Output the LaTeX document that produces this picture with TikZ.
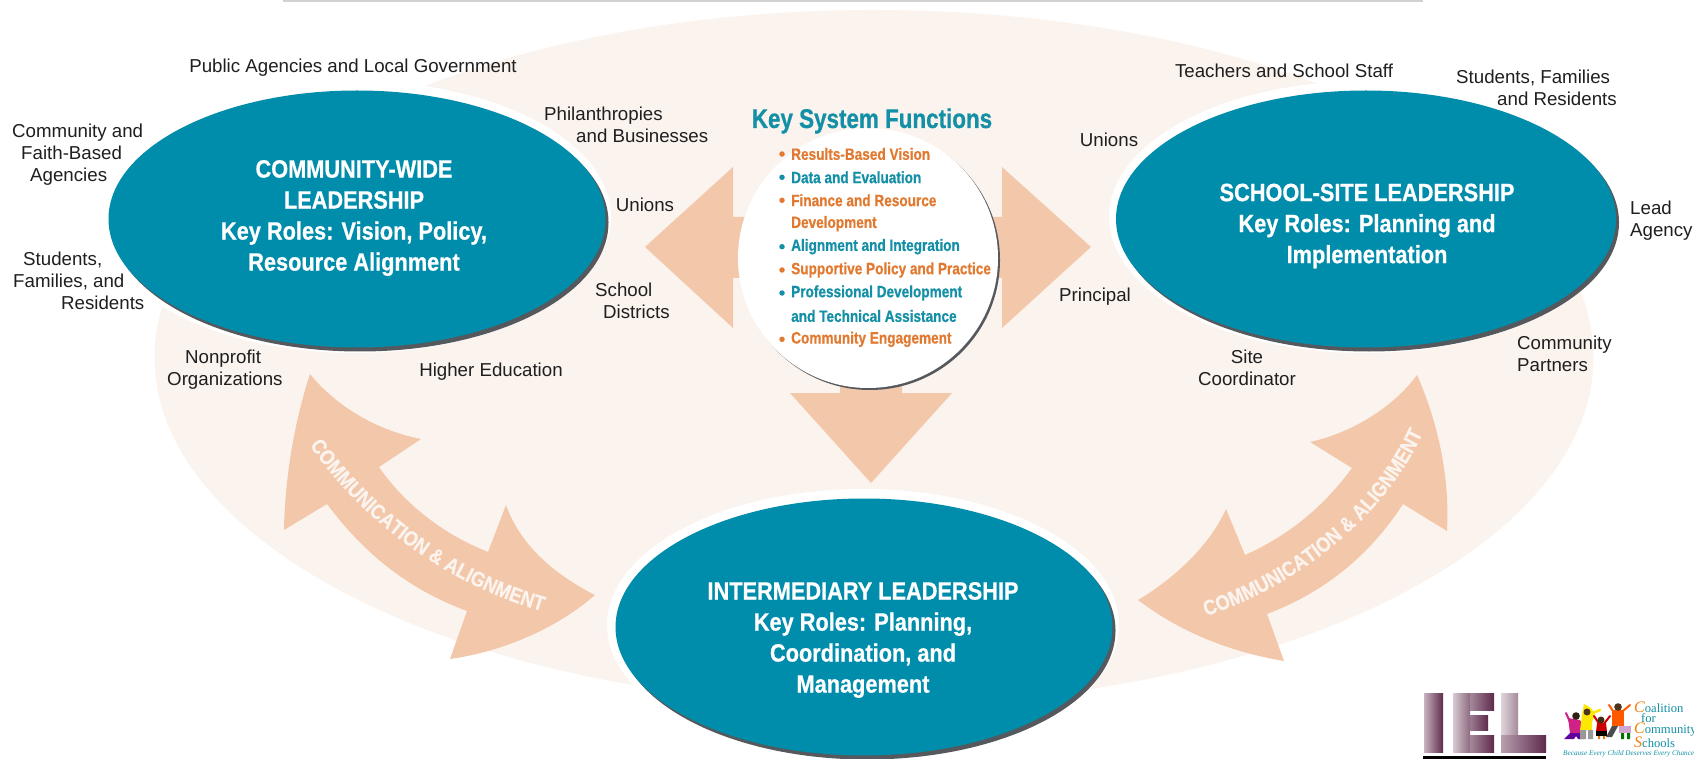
\documentclass[tikz,border=0pt]{standalone}
\usepackage{fontspec}
\usetikzlibrary{shapes.geometric,decorations.text}
\setmainfont{Liberation Sans}
\newfontfamily\condA[FakeStretch=0.87,FakeBold=0.7]{Liberation Sans Bold}
\newfontfamily\condB[FakeStretch=0.83,FakeBold=0.7]{Liberation Sans Bold}
\newfontfamily\logoserif{Liberation Serif}
\definecolor{pale}{HTML}{FBF3EE}
\definecolor{peach}{HTML}{F3C7A9}
\definecolor{teal1}{HTML}{008CAB}
\definecolor{tealtx}{HTML}{138FA6}
\definecolor{orangetx}{HTML}{E17A30}
\definecolor{shadowc}{HTML}{55585C}
\definecolor{plum}{HTML}{5E2A4C}
\tikzset{
  halo/.style={ellipse,fill=white,draw=none,minimum width=#1,minimum height=272pt,inner sep=0pt},
  shade1/.style={ellipse,fill=shadowc,draw=none,minimum width=#1,minimum height=258pt,inner sep=0pt},
  oval/.style={ellipse,fill=teal1,draw=none,minimum width=#1,minimum height=257pt,inner sep=0pt},
  roletxt/.style={text=white,font=\condA\fontsize{25}{31}\selectfont,align=center,inner sep=0pt},
  lbl/.style={text=black!88,font=\fontsize{18.7}{22}\selectfont,align=left,inner sep=0pt},
  lblc/.style={lbl,align=center},
  fnO/.style={text=orangetx,font=\condB\fontsize{16.4}{20}\selectfont,anchor=west,inner sep=0pt},
  fnT/.style={fnO,text=tealtx},
  dotO/.style={circle,fill=orangetx,minimum size=5.5pt,inner sep=0pt},
  dotT/.style={circle,fill=tealtx,minimum size=5.5pt,inner sep=0pt},
  arrowfill/.style={fill=peach,draw=none},
  logotxt/.style={inner sep=0pt,anchor=west,text=tealtx,font=\logoserif\fontsize{12.6}{13}\selectfont},
  curvetext/.style={decorate,decoration={text along path,text align=center,
    text={|\condA\fontsize{21}{21}\selectfont\color{pale}|COMMUNICATION {\&} ALIGNMENT}}},
}
\newcommand{\capC}[1]{{\color{orange!80!brown}\fontsize{16}{16}\selectfont\itshape #1}}
\begin{document}
\begin{tikzpicture}[x=1pt,y=-1pt]
\useasboundingbox (0,0) rectangle (1694,759);
\fill[white] (0,0) rectangle (1694,759);
\fill[black!18] (283,0) rectangle (1423,2);
% large pale ellipse
\node[ellipse,fill=pale,minimum width=1439pt,minimum height=695pt,inner sep=0pt] (bg) at (874,357.5) {};
% straight arrows
\fill[arrowfill] (645,247) -- (733,167) -- (733,217) -- (790,217) -- (790,278) -- (733,278) -- (733,328) -- cycle;
\fill[arrowfill] (1091,247) -- (1002,167) -- (1002,217) -- (950,217) -- (950,278) -- (1002,278) -- (1002,328) -- cycle;
\fill[arrowfill] (871,483) -- (790,393) -- (840,393) -- (840,360) -- (902,360) -- (902,393) -- (952,393) -- cycle;
% curved double arrows
\fill[arrowfill] (310,374) .. controls (335,405) and (375,430) .. (421,439)
  -- (379,467) .. controls (405,505) and (445,535) .. (488,552)
  -- (506,505) .. controls (520,545) and (555,575) .. (595,595)
  .. controls (555,630) and (500,652) .. (450,659)
  -- (467,611) .. controls (410,590) and (365,555) .. (327,504)
  -- (284,530) .. controls (285,475) and (295,420) .. (310,374) -- cycle;
\fill[arrowfill] (1417,375) .. controls (1395,405) and (1355,432) .. (1310,442)
  -- (1352,468) .. controls (1325,505) and (1290,535) .. (1245,555)
  -- (1226,509) .. controls (1210,545) and (1175,578) .. (1138,600)
  .. controls (1180,632) and (1230,652) .. (1284,661)
  -- (1267,614) .. controls (1325,592) and (1370,555) .. (1403,504)
  -- (1447,531) .. controls (1450,475) and (1437,420) .. (1417,375) -- cycle;
\path[curvetext] (308,443) .. controls (350,505) and (430,580) .. (545,612);
\path[curvetext] (1203,617) .. controls (1290,590) and (1385,520) .. (1424,430);
% ovals
\node[halo=512pt] (h1) at (355,217) {};
\node[halo=512pt] (h2) at (1365,217) {};
\node[halo=512pt] (h3) at (863,625) {};
\node[shade1=497pt] (s1) at (360,222.5) {};
\node[shade1=500pt] (s2) at (1369,222.5) {};
\node[shade1=497pt] (s3) at (867,630.5) {};
\node[oval=497pt] (o1) at (357,219) {};
\node[oval=500pt] (o2) at (1366,219) {};
\node[oval=497pt] (o3) at (864,627) {};
\node[roletxt] (t1) at (354,218) {COMMUNITY-WIDE\\LEADERSHIP\\Key Roles: Vision, Policy,\\Resource Alignment};
\node[roletxt] (t2) at (1367,226) {SCHOOL-SITE LEADERSHIP\\Key Roles: Planning and\\Implementation};
\node[roletxt] (t3) at (863,640) {INTERMEDIARY LEADERSHIP\\Key Roles: Planning,\\Coordination, and\\Management};
% centre circle
\node[circle,fill=shadowc,minimum size=260pt,inner sep=0pt] (cs) at (870,260) {};
\node[circle,fill=white,minimum size=260pt,inner sep=0pt] (cc) at (868,258) {};
\node[text=tealtx,font=\condB\fontsize{27}{27}\selectfont,inner sep=0pt] (kf) at (872,121) {Key System Functions};
\node[dotO] (d1) at (782,154) {}; \node[fnO] (f1) at (791,154) {Results-Based Vision};
\node[dotT] (d2) at (782,177.3) {}; \node[fnT] (f2) at (791,177.3) {Data and Evaluation};
\node[dotO] (d3) at (782,200.3) {}; \node[fnO] (f3) at (791,200.3) {Finance and Resource};
\node[fnO] (f3b) at (791,223.7) {Development};
\node[dotT] (d4) at (782,246.7) {}; \node[fnT] (f4) at (791,246.7) {Alignment and Integration};
\node[dotO] (d5) at (782,270) {}; \node[fnO] (f5) at (791,270) {Supportive Policy and Practice};
\node[dotT] (d6) at (782,293) {}; \node[fnT] (f6) at (791,293) {Professional Development};
\node[fnT] (f6b) at (791,316) {and Technical Assistance};
\node[dotO] (d7) at (782,339.3) {}; \node[fnO] (f7) at (791,339.3) {Community Engagement};
% outer labels, left
\node[lblc] (l1) at (353,68) {Public Agencies and Local Government};
\node[lbl,anchor=west] (l2) at (12,155) {Community and\\\hspace*{9pt}Faith-Based\\\hspace*{18pt}Agencies};
\node[lbl,anchor=west] (l3) at (13,281) {\hspace*{10pt}Students,\\Families, and\\\hspace*{48pt}Residents};
\node[lbl,anchor=west] (l4) at (544,125) {Philanthropies\\\hspace*{32pt}and Businesses};
\node[lblc] (l5) at (645,205) {Unions};
\node[lbl,anchor=west] (l6) at (595,301) {School\\\hspace*{8pt}Districts};
\node[lbl,anchor=west] (l7) at (167,370) {\hspace*{18pt}Nonprofit\\Organizations};
\node[lblc] (l8) at (491,372) {Higher Education};
% outer labels, right
\node[lblc] (r1) at (1284,71) {Teachers and School Staff};
\node[lbl,anchor=west] (r2) at (1456,88) {Students, Families\\\hspace*{41pt}and Residents};
\node[lblc] (r3) at (1109,140) {Unions};
\node[lbl,anchor=west] (r4) at (1630,221) {Lead\\Agency};
\node[lblc] (r5) at (1095,297) {Principal};
\node[lblc] (r6) at (1247,368) {Site\\Coordinator};
\node[lbl,anchor=west] (r7) at (1517,354) {Community\\Partners};
% IEL logo
\begin{scope}
\shade[left color=plum!35,right color=plum] (1424,693) rectangle (1443,752);
\shade[left color=plum!25,right color=plum] (1453,693) rectangle (1494,710);
\shade[left color=plum!25,right color=plum] (1453,715) rectangle (1488,730);
\shade[left color=plum!25,right color=plum] (1453,735) rectangle (1494,752);
\shade[left color=plum!25,right color=plum!70] (1453,693) rectangle (1470,752);
\shade[left color=plum!20,right color=plum!55] (1501,693) rectangle (1518,752);
\shade[left color=plum!45,right color=plum] (1501,735) rectangle (1546,752);
\fill[black] (1423,756) rectangle (1546,759);
\end{scope}
% Coalition logo children
\draw[magenta!85!black,line width=2pt,line cap=round] (1570,722) -- (1566,713) (1580,722) -- (1590,724);
\fill[magenta!85!black] (1568,718) -- (1580,720) -- (1584,733) -- (1570,733) -- cycle;
\fill[violet!75!blue] (1570,733) -- (1578,733) -- (1574,739) -- (1564,739) -- cycle (1574,733) -- (1584,733) -- (1584,739) -- (1578,739) -- cycle;
\fill[black!75!brown] (1576,716) circle (3.8pt);
\draw[yellow!90!orange,line width=2.5pt,line cap=round] (1590,714) -- (1600,710);
\fill[yellow!90!orange] (1584,704) -- (1591,708) -- (1595,714) -- (1592,722) -- (1592,730) -- (1580,730) -- (1582,715) -- cycle;
\fill[black!60!brown] (1587,712) circle (3.5pt);
\fill[black!40] (1580,730) rectangle (1586,739) (1588,730) rectangle (1593,739);
\draw[red!80!black,line width=2pt,line cap=round] (1600,725) -- (1594,716) (1603,725) -- (1610,716);
\fill[red!80!black] (1597,723) -- (1606,723) -- (1607,732) -- (1596,732) -- cycle;
\fill[black] (1596,731) rectangle (1607,736);
\fill[orange!60!brown] (1598,736) rectangle (1600,739) (1603,736) rectangle (1605,739);
\fill[black!65!brown] (1601,720) circle (3.5pt);
\draw[orange!70!red,line width=2pt,line cap=round] (1613,711) -- (1609,705) (1623,711) -- (1630,705);
\fill[orange!70!red] (1612,710) -- (1624,710) -- (1624,726) -- (1612,726) -- cycle;
\fill[black!60!brown] (1618,707) circle (3.8pt);
\fill[black!70] (1612,726) -- (1618,726) -- (1612,737) -- (1606,737) -- cycle;
\fill[violet!35] (1619,726) rectangle (1631,733);
\fill[green!45!black] (1621,733) rectangle (1624,739) (1627,733) rectangle (1630,739);
\node[logotxt] (c1) at (1634,707) {\capC{C}oalition};
\node[logotxt] (c2) at (1641,718) {for};
\node[logotxt] (c3) at (1634,730) {\capC{C}ommunity};
\node[logotxt] (c4) at (1634,742) {\capC{S}chools};
\node[logotxt,font=\logoserif\itshape\fontsize{7.2}{8}\selectfont] (c5) at (1563,754) {Because Every Child Deserves Every Chance};
\end{tikzpicture}
\end{document}
